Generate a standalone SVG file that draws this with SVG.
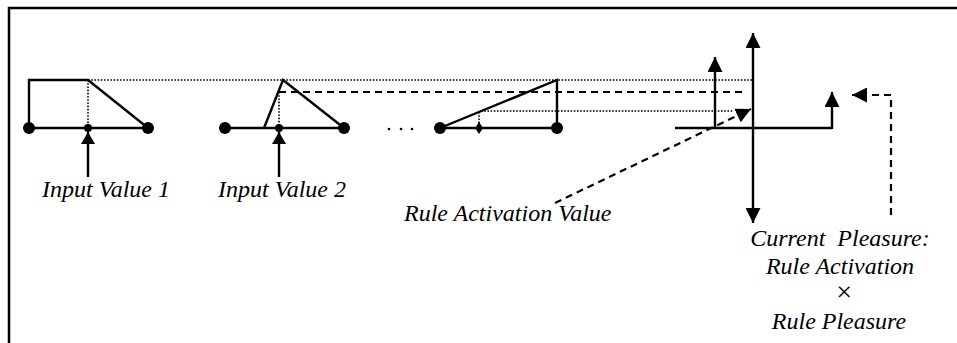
<svg xmlns="http://www.w3.org/2000/svg" width="957" height="343" viewBox="0 0 957 343">
<style>
.ln{stroke:#000;stroke-width:2.4;fill:none}
.dot{stroke:#000;stroke-width:1.6;stroke-dasharray:1.6 1.6;fill:none}
.dash{stroke:#000;stroke-width:2.2;stroke-dasharray:7 5;fill:none}
.lbl{font-family:"Liberation Serif","Times New Roman",serif;font-style:italic;font-size:24px;fill:#000}
.pt{fill:#000}
</style>
<defs>
<marker id="ah" viewBox="0 0 15 15" refX="15" refY="7.5" markerWidth="15" markerHeight="15" markerUnits="userSpaceOnUse" orient="auto"><path d="M0,0 L15,7.5 L0,15 z" fill="#000"/></marker>
<marker id="ahs" viewBox="0 0 12 14" refX="12" refY="7" markerWidth="12" markerHeight="14" markerUnits="userSpaceOnUse" orient="auto"><path d="M0,0 L12,7 L0,14 z" fill="#000"/></marker>
</defs>
<rect width="957" height="343" fill="#fff"/>
<path d="M9,343 V8 H957" stroke="#000" stroke-width="2.5" fill="none"/>

<g id="connectors">
<path class="dot" d="M88,80 H752"/>
<path class="dash" d="M279,92 H747"/>
<path class="dot" d="M481,111 H733"/>
<path class="ln" d="M88,177 V132" marker-end="url(#ahs)"/>
<path class="ln" d="M279,177 V132" marker-end="url(#ahs)"/>
<path class="dash" d="M555,203 L751,109" marker-end="url(#ah)"/>
<path class="dash" d="M891,215 V95 H852" marker-end="url(#ah)"/>
</g>

<g id="set1">
<path class="ln" d="M29,128 H148"/>
<path class="ln" d="M29,128 V80 H88 L148,128"/>
<path class="dot" d="M88,80 V128"/>
<circle class="pt" cx="29" cy="128" r="6"/>
<circle class="pt" cx="148" cy="128" r="6"/>
<circle class="pt" cx="88" cy="128" r="4"/>
</g>

<g id="set2">
<path class="ln" d="M225,128 H344"/>
<path class="ln" d="M264,128 L283,80 L344,128"/>
<path class="dot" d="M279,92 V128"/>
<circle class="pt" cx="225" cy="128" r="6"/>
<circle class="pt" cx="344" cy="128" r="6"/>
<circle class="pt" cx="279" cy="128" r="4"/>
</g>

<g id="ellipsis">
<circle class="pt" cx="389" cy="129" r="1.3"/>
<circle class="pt" cx="401" cy="129" r="1.3"/>
<circle class="pt" cx="412" cy="129" r="1.3"/>
</g>

<g id="set3">
<path class="ln" d="M440,128 H557 V80 L440,128"/>
<path class="dot" d="M479,112 V128"/>
<circle class="pt" cx="440" cy="128" r="6"/>
<circle class="pt" cx="557" cy="128" r="6"/>
<path class="pt" d="M479,122 L483,128 L479,134 L475,128 z"/>
</g>

<g id="output">
<path class="ln" d="M753,128 V33" marker-end="url(#ah)"/>
<path class="ln" d="M753,128 V223" marker-end="url(#ah)"/>
<path class="ln" d="M675,128 H832"/>
<path class="ln" d="M715,128 V57" marker-end="url(#ah)"/>
<path class="ln" d="M832,129 V92" marker-end="url(#ah)"/>
</g>

<g id="labels">
<text class="lbl" x="42" y="197">Input Value 1</text>
<text class="lbl" x="218" y="197">Input Value 2</text>
<text class="lbl" x="404" y="221">Rule Activation Value</text>
<text class="lbl" x="840" y="246" text-anchor="middle" xml:space="preserve">Current  Pleasure:</text>
<text class="lbl" x="840" y="274" text-anchor="middle">Rule Activation</text>
<text class="lbl" x="844" y="301" text-anchor="middle" style="font-size:28px">×</text>
<text class="lbl" x="839" y="329" text-anchor="middle">Rule Pleasure</text>
</g>
</svg>
